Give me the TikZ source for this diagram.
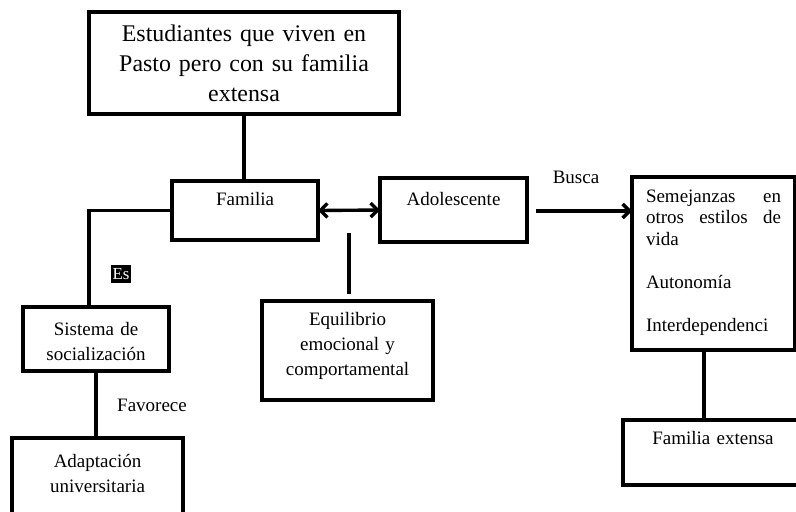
\documentclass[tikz,border=0pt]{standalone}
\usepackage{fontspec}
\setmainfont{Liberation Serif}
\usetikzlibrary{arrows.meta,calc}

\newcommand{\textogrande}{\fontsize{17}{21.5}\selectfont}
\newcommand{\textomedio}{\fontsize{13.5}{18}\selectfont}
\newcommand{\textojunto}{\fontsize{13.5}{15.3}\selectfont}

\tikzset{
   caja/.style={draw, line width=2.4pt, inner sep=0pt, outer sep=0pt, anchor=north west, align=center, font=\textomedio},
   enlace/.style={line width=2.4pt},
   rotulo/.style={font=\textomedio, inner sep=0pt},
   >={Straight Barb[length=5pt,width=10pt]},
}

\begin{document}
\begin{tikzpicture}[x=0.025cm, y=-0.025cm]

   \useasboundingbox (0,0) rectangle (796,512);
   \clip (0,0) rectangle (796,512);

   % cajas
   \node[caja, font=\textogrande, text width=7.75cm, text height=0.725cm, text depth=1.825cm] (estudiantes) at (89,12)
      {Estudiantes que viven en\\ Pasto pero con su familia\\ extensa};
   \node[caja, text width=3.65cm, text height=0.6cm, text depth=0.875cm] (familia) at (172,181) {Familia};
   \node[caja, text width=3.675cm, text height=0.675cm, text depth=0.925cm] (adolescente) at (380,178) {Adolescente};
   \node[caja, text width=4.275cm, text height=0.6cm, text depth=1.875cm] (equilibrio) at (262,301)
      {Equilibrio\\ emocional y\\ comportamental};
   \node[caja, font=\textojunto, align=left, inner xsep=0.35cm, text width=3.375cm, text height=0.625cm, text depth=3.7cm] (semejanzas) at (632,177)
      {Semejanzas\hfill en\\ otros\hfill estilos\hfill de\\ vida\\[15.3pt] Autonomía\\[15.3pt] Interdependenci};
   \node[caja, text width=3.65cm, text height=0.7cm, text depth=0.9cm] (sistema) at (23,307)
      {Sistema de\\ socialización};
   \node[caja, text width=4.275cm, text height=0.725cm, text depth=2.5cm] (adaptacion) at (12,438)
      {Adaptación\\ universitaria};
   \node[caja, text width=4.5cm, text height=0.6cm, text depth=1.025cm] (familiaextensa) at (623,420) {Familia extensa};

   % conectores
   \draw[enlace] (estudiantes.south) -- (estudiantes.south |- familia.north);
   \coordinate (sisarriba) at ($(sistema.north)+(-7,0)$);
   \draw[enlace] (familia.west) -| (sisarriba);
   \draw[enlace] (sistema.south) -- (sistema.south |- adaptacion.north);
   \draw[enlace, <->] (familia.east) -- (adolescente.west);
   \coordinate (eqarriba) at (349,233);
   \draw[enlace] (eqarriba) -- ($(eqarriba |- equilibrio.north)+(0,-7)$);
   \coordinate (buscaini) at (536,211);
   \draw[enlace, ->] (buscaini) -- (buscaini -| semejanzas.west);
   \coordinate (semabajo) at ($(semejanzas.south)+(-9.5,0)$);
   \draw[enlace] (semabajo) -- (semabajo |- familiaextensa.north);

   % rotulos
   \node[rotulo] (busca) at (576,177) {Busca};
   \node[rotulo, fill=black, text=white, font=\fontsize{12}{14}\selectfont, minimum width=0.475cm, minimum height=0.45cm] (es) at (121,274) {Es};
   \node[rotulo] (favorece) at (152,405) {Favorece};

\end{tikzpicture}
\end{document}
